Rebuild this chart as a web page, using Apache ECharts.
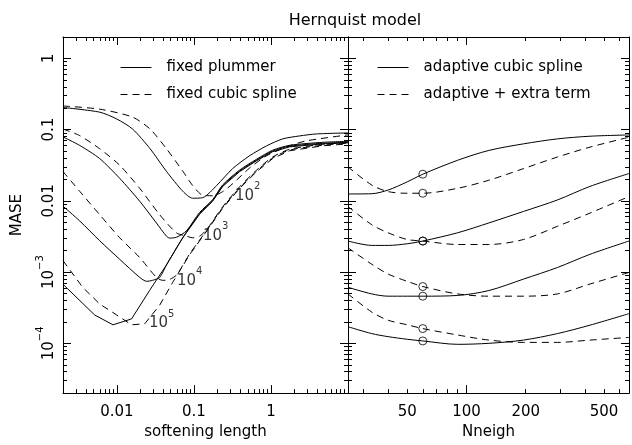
<!DOCTYPE html>
<html>
<head>
<meta charset="utf-8">
<title>Hernquist model</title>
<script src="https://cdn.jsdelivr.net/npm/echarts@6/dist/echarts.min.js"></script>
<style>
  html, body { margin: 0; padding: 0; background: #fff; }
  #chart { width: 632px; height: 445px; }
</style>
</head>
<body>
<div id="chart"></div>
<script>
// ---- values ----
// left panel: [softening length, MASE]
const plummer1e2 = [[0.002,0.205],[0.006,0.176],[0.01,0.141],[0.016,0.102],[0.027,0.054],[0.044,0.026],[0.072,0.0136],[0.096,0.0109],[0.13,0.0111],[0.198,0.0165],[0.318,0.0284],[0.53,0.0431],[0.88,0.0593],[1.42,0.0742],[2.36,0.0817],[3.9,0.0871],[10,0.09]];
const plummer1e3 = [[0.002,0.0791],[0.0033,0.06],[0.006,0.0392],[0.0109,0.0207],[0.0198,0.00989],[0.0326,0.0049],[0.044,0.0032],[0.0485,0.003],[0.06,0.0031],[0.08,0.0038],[0.119,0.0069],[0.175,0.0104],[0.237,0.0168],[0.393,0.0271],[0.653,0.0385],[1.05,0.0514],[1.75,0.0603],[4.69,0.0664],[10,0.0686]];
const plummer1e4 = [[0.002,0.00843],[0.0033,0.00522],[0.006,0.00275],[0.0109,0.00151],[0.0198,0.000843],[0.0244,0.000742],[0.029,0.000766],[0.036,0.000843],[0.0444,0.00128],[0.0716,0.00303],[0.119,0.00665],[0.175,0.0101],[0.237,0.0163],[0.393,0.0263],[0.653,0.0374],[1.05,0.05],[1.75,0.0585],[4.69,0.0644],[10,0.0666]];
const plummer1e5 = [[0.002,0.000675],[0.00515,0.00025],[0.0089,0.000182],[0.0155,0.00022],[0.0267,0.000556],[0.0444,0.00128],[0.0716,0.00303],[0.119,0.00653],[0.175,0.00989],[0.237,0.016],[0.393,0.0258],[0.653,0.0367],[1.05,0.049],[1.75,0.0574],[4.69,0.0632],[10,0.0653]];
const spline1e2 = [[0.002,0.215],[0.006,0.194],[0.016,0.15],[0.027,0.102],[0.044,0.054],[0.072,0.026],[0.096,0.0165],[0.13,0.012],[0.175,0.0118],[0.237,0.0135],[0.32,0.0175],[0.53,0.029],[0.88,0.0431],[1.75,0.0593],[2.9,0.0697],[10,0.0844]];
const spline1e3 = [[0.002,0.102],[0.0033,0.0824],[0.006,0.0539],[0.0109,0.0316],[0.0198,0.015],[0.036,0.00638],[0.0593,0.00356],[0.08,0.0032],[0.0964,0.00303],[0.119,0.0032],[0.147,0.00398],[0.237,0.0083],[0.393,0.0158],[0.653,0.0271],[1.05,0.0412],[1.75,0.0531],[4.69,0.0623],[10,0.0664]];
const spline1e4 = [[0.002,0.0258],[0.0033,0.0136],[0.006,0.00638],[0.0109,0.00303],[0.0198,0.0016],[0.0326,0.000843],[0.0394,0.000766],[0.0485,0.00079],[0.06,0.00092],[0.0881,0.0018],[0.147,0.00387],[0.237,0.00807],[0.393,0.0153],[0.653,0.0263],[1.05,0.04],[1.75,0.0516],[4.69,0.0605],[10,0.0645]];
const spline1e5 = [[0.002,0.00145],[0.0036,0.000612],[0.006,0.000356],[0.00995,0.00025],[0.0155,0.000182],[0.023,0.000188],[0.036,0.000344],[0.0531,0.000719],[0.0881,0.00176],[0.147,0.00379],[0.237,0.00791],[0.393,0.015],[0.653,0.0258],[1.05,0.0392],[1.75,0.0506],[4.69,0.0593],[10,0.0632]];

// curve labels in the left panel (N = 10^exp)
const labelExp = [2, 3, 4, 5];
const labelEps = [0.5, 0.192, 0.088, 0.0382];
const labelMase = [0.0132, 0.00356, 0.000843, 0.000213];

// right panel: MASE against Nneigh
const nneigh = [25, 33, 40, 50, 60, 90, 130, 195, 290, 425, 670];
const adaptive1e2 = [0.0125, 0.0126, 0.0142, 0.0185, 0.0237, 0.0371, 0.0511, 0.0632, 0.0742, 0.0809, 0.0843];
const adaptive1e3 = [0.00273, 0.00237, 0.00237, 0.0025, 0.00273, 0.00356, 0.0049, 0.00711, 0.0103, 0.016, 0.0242];
const adaptive1e4 = [0.000612, 0.000494, 0.000459, 0.000459, 0.000459, 0.00047, 0.000551, 0.000798, 0.00116, 0.00178, 0.00273];
const adaptive1e5 = [0.000171, 0.000137, 0.000124, 0.000114, 0.000108, 0.0000968, 0.0001, 0.000111, 0.000137, 0.00018, 0.000261];
const extra1e2 = [0.030, 0.0167, 0.0135, 0.0128, 0.0128, 0.015, 0.0195, 0.0284, 0.0413, 0.0569, 0.0783];
const extra1e3 = [0.00836, 0.00463, 0.00356, 0.00287, 0.00273, 0.00244, 0.00244, 0.00287, 0.0044, 0.00675, 0.0115];
const extra1e4 = [0.0022, 0.00129, 0.000938, 0.000742, 0.000627, 0.000494, 0.000459, 0.000459, 0.000494, 0.000681, 0.000989];
const extra1e5 = [0.000494, 0.000275, 0.000211, 0.000182, 0.000161, 0.000131, 0.000111, 0.000103, 0.000103, 0.000111, 0.000121];
const markedN = 60;

// axes
const epsRange = [0.002, 10];
const nRange = [25, 670];
const maseRange = [2e-5, 2];
const epsLabels = [0.01, 0.1, 1];
const nLabels = [50, 100, 200, 500];
const maseLabels = [1, 0.1, 0.01, 0.001, 0.0001];

// ---- chart ----
const BLACK = '#000';
const FONT = 'DejaVu Sans';
const lg = Math.log10;
const rich = {
  m: { fontSize: 15, fontFamily: FONT, color: BLACK, lineHeight: 22, verticalAlign: 'bottom' },
  s: { fontSize: 10, fontFamily: FONT, color: BLACK, lineHeight: 10, verticalAlign: 'top' }
};

function tickText(v) {
  if (v >= 0.01) return '{m|' + v + '}';
  return '{m|10}{s|\u2212' + (-Math.round(lg(v))) + '}';
}

// log decades: major ticks at 10^n, minor at k*10^n
function logTicks(range) {
  const a = lg(range[0]), b = lg(range[1]);
  const major = [], minor = [];
  for (let d = Math.floor(a); d <= Math.ceil(b); d++) {
    for (let k = 1; k <= 9; k++) {
      const v = d + lg(k);
      if (v < a - 1e-9 || v > b + 1e-9) continue;
      (k === 1 ? major : minor).push(v);
    }
  }
  return { major, minor };
}

// one side of a panel frame: a major axis (line, long ticks, labels) + a minor axis (short ticks)
function side(gridIndex, position, range, labels, extra) {
  const ticks = logTicks(range);
  const base = { type: 'value', gridIndex, position, min: lg(range[0]), max: lg(range[1]), splitLine: { show: false } };
  const tickStyle = { color: BLACK, width: 1 };
  const major = Object.assign({}, base, {
    axisLine: { show: true, onZero: false, lineStyle: { color: BLACK, width: 1 } },
    axisTick: { show: true, inside: true, length: 8, customValues: ticks.major, lineStyle: tickStyle },
    axisLabel: labels ? {
      show: true,
      customValues: labels.map(lg),
      formatter: val => tickText(labels.find(l => Math.abs(lg(l) - val) < 1e-6)),
      rich: rich
    } : { show: false }
  }, extra || {});
  if (labels && (position === 'left' || position === 'right')) {
    major.axisLabel.rotate = 90;
    major.axisLabel.margin = 6;
  } else if (labels) {
    major.axisLabel.margin = 5;
  }
  const minor = Object.assign({}, base, {
    axisLine: { show: false, onZero: false },
    axisTick: { show: true, inside: true, length: 4, customValues: ticks.minor, lineStyle: tickStyle },
    axisLabel: { show: false }
  });
  return [major, minor];
}

const nameStyle = { fontSize: 15, fontFamily: FONT, color: BLACK };
const xAxis = [].concat(
  side(0, 'bottom', epsRange, epsLabels, { name: 'softening length', nameLocation: 'middle', nameGap: 28, nameTextStyle: nameStyle }),
  side(0, 'top', epsRange, null),
  side(1, 'bottom', nRange, nLabels, { name: 'Nneigh', nameLocation: 'middle', nameGap: 28, nameTextStyle: nameStyle }),
  side(1, 'top', nRange, null)
);
const yAxis = [].concat(
  side(0, 'left', maseRange, maseLabels, { name: 'MASE', nameLocation: 'middle', nameGap: 38, nameRotate: 90, nameTextStyle: nameStyle }),
  side(0, 'right', maseRange, null),
  side(1, 'left', maseRange, null),
  side(1, 'right', maseRange, null)
);

function curve(name, points, dashed, panel, smooth) {
  return {
    type: 'line', name: name,
    xAxisIndex: panel * 4, yAxisIndex: panel * 4,
    data: points.map(p => [lg(p[0]), lg(p[1])]),
    symbol: 'none', smooth: smooth,
    lineStyle: { color: BLACK, width: 1, type: dashed ? [7, 5] : 'solid' },
    itemStyle: { color: BLACK },
    silent: true
  };
}
const zipN = vals => nneigh.map((n, i) => [n, vals[i]]);

const series = [
  curve('fixed plummer', plummer1e2, false, 0, 0.25),
  curve('fixed plummer', plummer1e3, false, 0, 0.25),
  curve('fixed plummer', plummer1e4, false, 0, 0.25),
  curve('fixed plummer', plummer1e5, false, 0, false),
  curve('fixed cubic spline', spline1e2, true, 0, 0.25),
  curve('fixed cubic spline', spline1e3, true, 0, 0.25),
  curve('fixed cubic spline', spline1e4, true, 0, 0.25),
  curve('fixed cubic spline', spline1e5, true, 0, false),
  curve('adaptive cubic spline', zipN(adaptive1e2), false, 1, 0.3),
  curve('adaptive cubic spline', zipN(adaptive1e3), false, 1, 0.3),
  curve('adaptive cubic spline', zipN(adaptive1e4), false, 1, 0.3),
  curve('adaptive cubic spline', zipN(adaptive1e5), false, 1, 0.3),
  curve('adaptive + extra term', zipN(extra1e2), true, 1, 0.3),
  curve('adaptive + extra term', zipN(extra1e3), true, 1, 0.3),
  curve('adaptive + extra term', zipN(extra1e4), true, 1, 0.3),
  curve('adaptive + extra term', zipN(extra1e5), true, 1, 0.3),
  {
    type: 'scatter', name: 'N labels', xAxisIndex: 0, yAxisIndex: 0,
    symbolSize: 1, itemStyle: { color: 'rgba(0,0,0,0)' }, silent: true,
    data: labelExp.map((e, i) => [lg(labelEps[i]), lg(labelMase[i])]),
    label: {
      show: true, position: 'inside',
      formatter: p => '{m|10}{s|' + labelExp[p.dataIndex] + '}',
      rich: rich
    }
  },
  {
    type: 'scatter', name: 'Nneigh = 60', xAxisIndex: 4, yAxisIndex: 4,
    symbol: 'circle', symbolSize: 8, silent: true,
    itemStyle: { color: 'rgba(0,0,0,0)', borderColor: BLACK, borderWidth: 1 },
    data: [adaptive1e2, adaptive1e3, adaptive1e4, adaptive1e5, extra1e2, extra1e3, extra1e4, extra1e5]
      .map(vals => [lg(markedN), lg(vals[nneigh.indexOf(markedN)])])
  }
];

const legendBase = {
  orient: 'vertical', top: 60, padding: 0, itemWidth: 31, itemHeight: 14, itemGap: 12,
  selectedMode: false,
  itemStyle: { color: 'rgba(0,0,0,0)', borderWidth: 0, opacity: 0 },
  lineStyle: { width: 1, color: BLACK },
  textStyle: { fontSize: 15, fontFamily: FONT, color: BLACK, padding: [0, 0, 0, 10] }
};

const chart = echarts.init(document.getElementById('chart'), null, { renderer: 'canvas' });
chart.setOption({
  animation: false,
  backgroundColor: '#fff',
  title: {
    text: 'Hernquist model', left: 350, top: 8, textAlign: 'center',
    textStyle: { fontSize: 16, fontWeight: 'normal', fontFamily: FONT, color: BLACK }
  },
  legend: [
    Object.assign({}, legendBase, { left: 120, data: ['fixed plummer', 'fixed cubic spline'] }),
    Object.assign({}, legendBase, { left: 377, data: ['adaptive cubic spline', 'adaptive + extra term'] })
  ],
  grid: [
    { left: 63, top: 37, width: 285, height: 360 },
    { left: 348, top: 37, width: 281, height: 360 }
  ],
  xAxis: xAxis,
  yAxis: yAxis,
  series: series
});
</script>
</body>
</html>
